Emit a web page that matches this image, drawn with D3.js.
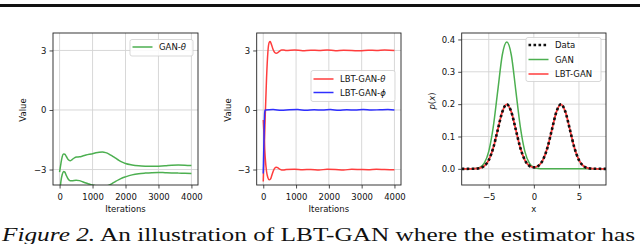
<!DOCTYPE html>
<html>
<head>
<meta charset="utf-8">
<script src="https://cdn.jsdelivr.net/npm/d3@7"></script>
<style>
  body { margin: 0; background: #fff; }
  svg { display: block; }
  text { font-family: "DejaVu Sans", sans-serif; }
</style>
</head>
<body>
<svg id="fig" width="640" height="244"></svg>
<script>
// ---- data ----
// panel 1: GAN parameters over iterations
var ganTheta1 = [[0,-3.13],[40,-2.7],[80,-2.35],[120,-2.22],[160,-2.23],[200,-2.33],[260,-2.5],[320,-2.56],[380,-2.5],[450,-2.41],[520,-2.37],[600,-2.36],[700,-2.32],[800,-2.27],[900,-2.23],[1000,-2.2],[1100,-2.16],[1200,-2.13],[1300,-2.12],[1400,-2.15],[1500,-2.22],[1600,-2.32],[1700,-2.43],[1800,-2.54],[1900,-2.63],[2000,-2.7],[2200,-2.77],[2400,-2.81],[2600,-2.83],[2800,-2.84],[3000,-2.83],[3200,-2.81],[3400,-2.78],[3600,-2.77],[3800,-2.78],[4000,-2.8]];
var ganTheta2 = [[0,-4.3],[40,-3.6],[80,-3.25],[120,-3.1],[160,-3.13],[200,-3.28],[260,-3.48],[320,-3.57],[400,-3.56],[500,-3.54],[600,-3.56],[700,-3.62],[800,-3.68],[900,-3.73],[1000,-3.78],[1100,-3.82],[1200,-3.86],[1300,-3.87],[1400,-3.84],[1500,-3.79],[1600,-3.7],[1700,-3.6],[1800,-3.51],[1900,-3.43],[2000,-3.37],[2200,-3.27],[2400,-3.21],[2600,-3.18],[2800,-3.16],[3000,-3.15],[3200,-3.16],[3400,-3.17],[3600,-3.18],[3800,-3.19],[4000,-3.2]];

// panel 2: LBT-GAN parameters over iterations
var lbtTheta1 = [[0,-3.6],[30,-2.0],[60,-0.3],[100,1.6],[140,2.9],[180,3.4],[210,3.45],[250,3.3],[300,3.05],[350,2.9],[400,2.86],[450,2.9],[500,2.97],[560,3.02],[620,3.02],[700,3.0],[950,3.02],[1200,2.99],[1450,3.01],[1700,3.0],[1950,3.02],[2200,2.99],[2450,3.01],[2700,3.0],[2950,2.98],[3200,3.01],[3450,3.0],[3700,3.02],[4000,3.0]];
var lbtTheta2 = [[0,-0.5],[30,-1.5],[60,-2.4],[100,-3.1],[140,-3.4],[180,-3.52],[220,-3.48],[260,-3.3],[300,-3.1],[350,-2.93],[400,-2.88],[450,-2.92],[500,-2.98],[560,-3.02],[620,-3.03],[700,-3.0],[950,-2.98],[1200,-3.01],[1450,-3.0],[1700,-3.02],[1950,-2.99],[2200,-3.0],[2450,-3.02],[2700,-2.99],[2950,-3.0],[3200,-3.01],[3450,-2.99],[3700,-3.0],[4000,-3.01]];
var lbtPhi = [[0,-3.2],[15,-2.0],[30,-0.8],[45,-0.1],[60,0.0],[300,0.02],[550,-0.01],[800,0.01],[1050,0.02],[1300,-0.01],[1550,0.01],[1800,0.0],[2050,0.02],[2300,-0.01],[2550,0.01],[2800,0.0],[3050,0.02],[3300,0.0],[3550,0.01],[3800,0.02],[4000,0.0]];

// panel 3: densities
var pdfX  = [-8,-7.5,-7,-6.5,-6,-5.5,-5,-4.5,-4,-3.5,-3,-2.5,-2,-1.5,-1,-0.5,0,0.5,1,1.5,2,2.5,3,3.5,4,4.5,5,5.5,6,6.5,7,7.5,8];
var dataP = [0,0,0.0001,0.0004,0.0022,0.0088,0.027,0.0648,0.121,0.176,0.1995,0.176,0.121,0.0648,0.0271,0.0092,0.0044,0.0092,0.0271,0.0648,0.121,0.176,0.1995,0.176,0.121,0.0648,0.027,0.0088,0.0022,0.0004,0.0001,0,0];
var ganP  = [0,0,0.0001,0.0009,0.0044,0.0175,0.054,0.1295,0.242,0.352,0.392,0.352,0.242,0.1295,0.054,0.0175,0.0044,0.0009,0.0001,0,0,0,0,0,0,0,0,0,0,0,0,0,0];
var lbtP  = [0,0,0.0001,0.0004,0.0022,0.0088,0.027,0.0648,0.121,0.176,0.1995,0.176,0.121,0.0648,0.0271,0.0092,0.0044,0.0092,0.0271,0.0648,0.121,0.176,0.1995,0.176,0.121,0.0648,0.027,0.0088,0.0022,0.0004,0.0001,0,0];

var iterTicks = [0, 1000, 2000, 3000, 4000];
var valueTicks = [-3, 0, 3];
var xTicks3 = [-5, 0, 5];
var pTicks = [0, 0.1, 0.2, 0.3, 0.4];

var GREEN = "#4caf50", RED = "#ff3d3d", BLUE = "#2f2fff";

var svg = d3.select("#fig");
var FS = 8.5;

// header rule of the page
svg.append("rect").attr("x", 0).attr("y", 4).attr("width", 640).attr("height", 3).attr("fill", "#111");

function minusFmt(f) {
  return function(d) { return f(d).replace("-", "\u2212"); };
}

function panel(cfg) {
  var x = d3.scaleLinear().domain(cfg.xd).range([cfg.left, cfg.right]);
  var y = d3.scaleLinear().domain(cfg.yd).range([185, 33]);
  var g = svg.append("g");

  g.append("clipPath").attr("id", cfg.id)
    .append("rect").attr("x", cfg.left).attr("y", 33)
    .attr("width", cfg.right - cfg.left).attr("height", 152);

  // grid
  g.selectAll(".gx").data(cfg.xt).enter().append("line")
    .attr("x1", x).attr("x2", x).attr("y1", 33).attr("y2", 185)
    .attr("stroke", "#d4d4d4").attr("stroke-width", 0.9);
  g.selectAll(".gy").data(cfg.yt).enter().append("line")
    .attr("y1", y).attr("y2", y).attr("x1", cfg.left).attr("x2", cfg.right)
    .attr("stroke", "#d4d4d4").attr("stroke-width", 0.9);

  var plot = g.append("g").attr("clip-path", "url(#" + cfg.id + ")");
  var line = d3.line().x(function(d) { return x(d[0]); }).y(function(d) { return y(d[1]); })
    .curve(d3.curveMonotoneX);
  cfg.series.forEach(function(s) {
    plot.append("path").datum(s.pts).attr("d", line)
      .attr("fill", "none").attr("stroke", s.color)
      .attr("stroke-width", s.width || 1.5)
      .attr("stroke-dasharray", s.dash || null);
  });

  // axes
  var ax = g.append("g").attr("transform", "translate(0,185)")
    .call(d3.axisBottom(x).tickValues(cfg.xt).tickSize(3.5).tickSizeOuter(0).tickFormat(cfg.xf));
  var ay = g.append("g").attr("transform", "translate(" + cfg.left + ",0)")
    .call(d3.axisLeft(y).tickValues(cfg.yt).tickSize(3.5).tickSizeOuter(0).tickFormat(cfg.yf));
  [ax, ay].forEach(function(a) {
    a.select(".domain").remove();
    a.selectAll("line").attr("stroke", "#222").attr("stroke-width", 0.8);
    a.selectAll("text").attr("font-size", FS).attr("fill", "#111")
      .attr("font-family", "DejaVu Sans");
  });
  ax.selectAll("text").attr("dy", "0.95em");

  g.append("rect").attr("x", cfg.left).attr("y", 33)
    .attr("width", cfg.right - cfg.left).attr("height", 152)
    .attr("fill", "none").attr("stroke", "#222").attr("stroke-width", 0.9);

  // axis labels
  g.append("text").attr("x", (cfg.left + cfg.right) / 2).attr("y", 211.5)
    .attr("text-anchor", "middle").attr("font-size", FS).attr("fill", "#111").text(cfg.xl);
  var yl = g.append("text")
    .attr("transform", "translate(" + cfg.ylx + "," + cfg.yly + ") rotate(-90)")
    .attr("text-anchor", "middle").attr("font-size", FS).attr("fill", "#111");
  cfg.yl(yl);

  // legend
  var L = cfg.legend;
  g.append("rect").attr("x", L.x).attr("y", L.y).attr("width", L.w).attr("height", L.h)
    .attr("rx", 2).attr("fill", "#fff").attr("fill-opacity", 0.85)
    .attr("stroke", "#cfcfcf").attr("stroke-width", 0.8);
  L.items.forEach(function(it, i) {
    var yy = L.y + L.first + i * L.step;
    g.append("line").attr("x1", L.x + 2.5).attr("x2", L.x + 22.5)
      .attr("y1", yy).attr("y2", yy).attr("stroke", it.color)
      .attr("stroke-width", it.width || 1.5).attr("stroke-dasharray", it.dash || null);
    var t = g.append("text").attr("x", L.x + 29).attr("y", yy + 3)
      .attr("font-size", FS).attr("fill", "#111");
    it.label(t);
  });
}

panel({
  id: "c1", left: 53, right: 198, xd: [-200, 4200], yd: [-3.78, 3.88],
  xt: iterTicks, yt: valueTicks, xf: d3.format("d"), yf: minusFmt(d3.format("d")),
  xl: "Iterations", ylx: 26, yly: 110,
  yl: function(t) { t.text("Value"); },
  series: [
    { pts: ganTheta1, color: GREEN },
    { pts: ganTheta2, color: GREEN }
  ],
  legend: { x: 130, y: 39.5, w: 63, h: 16.5, first: 7.5, step: 14,
    items: [{ color: GREEN, label: function(t) {
      t.append("tspan").text("GAN-");
      t.append("tspan").attr("font-style", "italic").text("\u03b8");
    } }] }
});

panel({
  id: "c2", left: 256.7, right: 401, xd: [-200, 4200], yd: [-3.78, 3.88],
  xt: iterTicks, yt: valueTicks, xf: d3.format("d"), yf: minusFmt(d3.format("d")),
  xl: "Iterations", ylx: 231, yly: 110,
  yl: function(t) { t.text("Value"); },
  series: [
    { pts: lbtTheta1, color: RED },
    { pts: lbtTheta2, color: RED },
    { pts: lbtPhi, color: BLUE }
  ],
  legend: { x: 311, y: 70.5, w: 84, h: 31, first: 8.5, step: 13.5,
    items: [
      { color: RED, label: function(t) {
        t.append("tspan").text("LBT-GAN-");
        t.append("tspan").attr("font-style", "italic").text("\u03b8");
      } },
      { color: BLUE, label: function(t) {
        t.append("tspan").text("LBT-GAN-");
        t.append("tspan").attr("font-style", "italic").text("\u03d5");
      } }
    ] }
});

var dataPts = pdfX.map(function(v, i) { return [v, dataP[i]]; });
var ganPts = pdfX.map(function(v, i) { return [v, ganP[i]]; });
var lbtPts = pdfX.map(function(v, i) { return [v, lbtP[i]]; });

panel({
  id: "c3", left: 461.7, right: 606, xd: [-8, 8], yd: [-0.05, 0.42],
  xt: xTicks3, yt: pTicks, xf: minusFmt(d3.format("d")), yf: d3.format(".1f"),
  xl: "x", ylx: 435, yly: 101,
  yl: function(t) {
    t.append("tspan").attr("font-style", "italic").text("p");
    t.append("tspan").text("(");
    t.append("tspan").attr("font-style", "italic").text("x");
    t.append("tspan").text(")");
  },
  series: [
    { pts: ganPts, color: GREEN },
    { pts: lbtPts, color: RED, width: 1.8 },
    { pts: dataPts, color: "#111", width: 2.6, dash: "2.6,2.4" }
  ],
  legend: { x: 526, y: 37.5, w: 75, h: 44, first: 7.5, step: 14.5,
    items: [
      { color: "#111", width: 2.6, dash: "2.6,2.4", label: function(t) { t.text("Data"); } },
      { color: GREEN, label: function(t) { t.text("GAN"); } },
      { color: RED, label: function(t) { t.text("LBT-GAN"); } }
    ] }
});

// caption fragment below the figure
var cap = svg.append("text").attr("x", 2).attr("y", 241)
  .style("font-family", "'Liberation Serif', 'Times New Roman', serif")
  .attr("font-size", 18).attr("fill", "#111")
  .attr("textLength", 633).attr("lengthAdjust", "spacingAndGlyphs");
cap.append("tspan").attr("font-style", "italic").text("Figure 2.");
cap.append("tspan").text(" An illustration of LBT-GAN where the estimator has");
</script>
</body>
</html>
